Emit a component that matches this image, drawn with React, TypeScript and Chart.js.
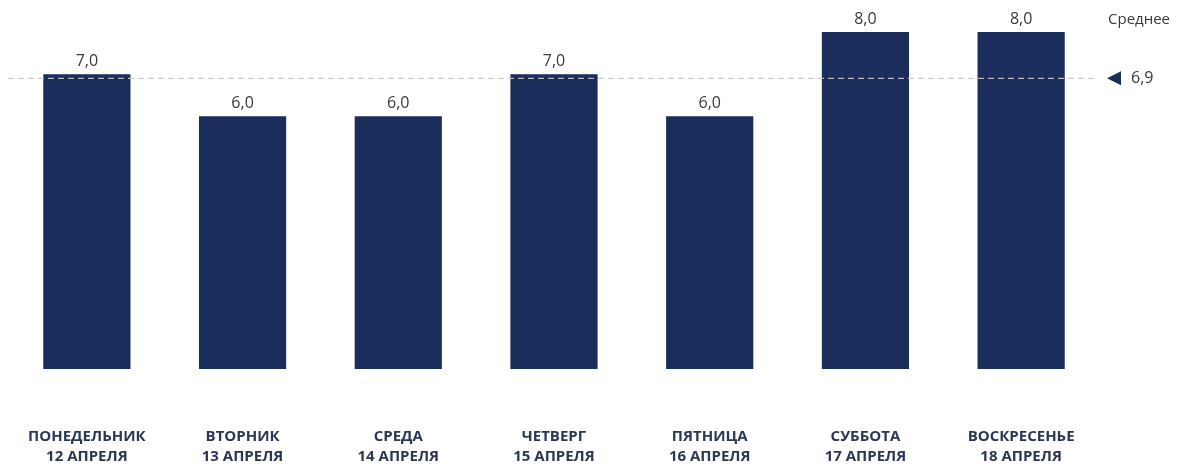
import React, { useEffect, useRef } from "react";
import { Chart, registerables } from "chart.js";

Chart.register(...registerables);

const dayNames = ["ПОНЕДЕЛЬНИК", "ВТОРНИК", "СРЕДА", "ЧЕТВЕРГ", "ПЯТНИЦА", "СУББОТА", "ВОСКРЕСЕНЬЕ"];
const dates = ["12 АПРЕЛЯ", "13 АПРЕЛЯ", "14 АПРЕЛЯ", "15 АПРЕЛЯ", "16 АПРЕЛЯ", "17 АПРЕЛЯ", "18 АПРЕЛЯ"];
const values = [7.0, 6.0, 6.0, 7.0, 6.0, 8.0, 8.0];
const averageValue = 6.9;
const averageTitle = "Среднее";

const fmt = (v: number) => v.toFixed(1).replace(".", ",");

const BAR = "#1a2d5b";
const FONT = "'Open Sans', 'Liberation Sans', sans-serif";

const overlayPlugin = {
  id: "overlay",
  afterDatasetsDraw(chart: any) {
    const { ctx, chartArea, scales } = chart;
    const y = scales.y.getPixelForValue(averageValue);
    ctx.save();
    // average dashed line
    ctx.strokeStyle = "rgba(200,200,200,0.9)";
    ctx.lineWidth = 1.3;
    ctx.setLineDash([6, 4]);
    ctx.beginPath();
    ctx.moveTo(chartArea.left - 1, y);
    ctx.lineTo(chartArea.right - 2, y);
    ctx.stroke();
    ctx.setLineDash([]);
    // value labels
    const meta = chart.getDatasetMeta(0);
    ctx.fillStyle = "#3a3a3a";
    ctx.font = `16px ${FONT}`;
    ctx.textAlign = "center";
    ctx.textBaseline = "bottom";
    meta.data.forEach((el: any, i: number) => {
      ctx.fillText(fmt(values[i]), el.x, el.y - 5);
    });
    // marker triangle
    const tx = chartArea.right + 8;
    ctx.fillStyle = BAR;
    ctx.beginPath();
    ctx.moveTo(tx, y);
    ctx.lineTo(tx + 14, y - 7);
    ctx.lineTo(tx + 14, y + 7);
    ctx.closePath();
    ctx.fill();
    ctx.fillStyle = "#3a3a3a";
    ctx.textAlign = "left";
    ctx.textBaseline = "middle";
    ctx.fillText(fmt(averageValue), tx + 24, y);
    ctx.font = `15px ${FONT}`;
    ctx.fillText(averageTitle, tx + 1, scales.y.getPixelForValue(8.3));
    ctx.restore();
  },
};

export default function App() {
  const ref = useRef<HTMLCanvasElement>(null);
  useEffect(() => {
    const chart = new Chart(ref.current!, {
      type: "bar",
      data: {
        labels: dayNames.map((d, i) => [d, dates[i]]),
        datasets: [
          {
            data: values,
            backgroundColor: BAR,
            categoryPercentage: 1,
            barPercentage: 0.56,
          },
        ],
      },
      options: {
        animation: false,
        responsive: false,
        maintainAspectRatio: false,
        layout: { padding: { left: 9, right: 85, top: 0, bottom: 0 } },
        plugins: { legend: { display: false }, tooltip: { enabled: false } },
        scales: {
          x: {
            grid: { display: false, drawTicks: false },
            border: { display: false },
            ticks: {
              color: "#2b3753",
              font: { family: FONT, size: 15, weight: "bold", lineHeight: 1.34 },
              padding: 58,
              maxRotation: 0,
              autoSkip: false,
            },
            afterFit: (s: any) => {
              s.height = 96;
              s.paddingLeft = 0;
              s.paddingRight = 0;
            },
          },
          y: {
            display: false,
            min: 0,
            max: 8.76,
          },
        },
      },
      plugins: [overlayPlugin],
    });
    return () => chart.destroy();
  }, []);
  return (
    <div style={{ position: "fixed", left: 0, top: 0, width: 1184, height: 465, background: "#fff" }}>
      <canvas ref={ref} width={1184} height={465} style={{ width: 1184, height: 465 }} />
    </div>
  );
}
